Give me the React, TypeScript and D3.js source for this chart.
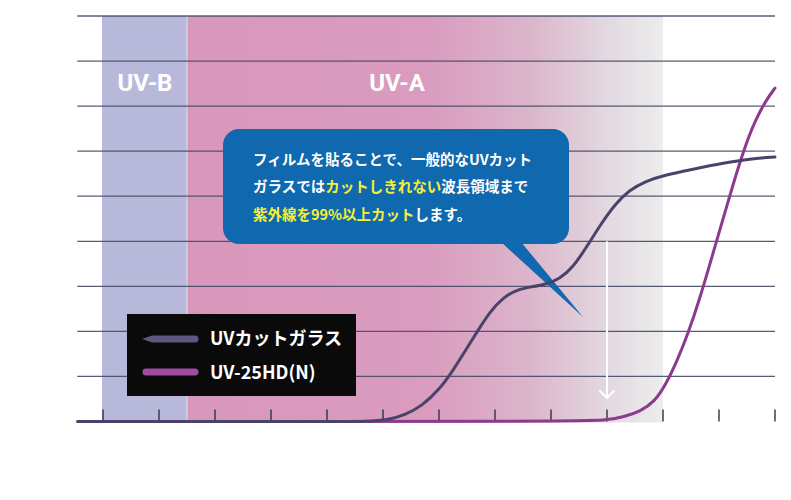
import React from "react";
import * as d3 from "d3";

// ---- data ----
const tickWavelengths = [280, 290, 300, 310, 320, 330, 340, 350, 360, 370, 380, 390, 400];
const gridValues = [10, 20, 30, 40, 50, 60, 70, 80, 90];
const bandUVB = [280, 295];
const bandUVA = [295, 380];
const arrowWavelength = 370;
const arrowRange = [40, 5];

const glassX = [275.5, 326, 331, 334, 337, 340, 342.5, 345, 347, 349, 351.5, 354, 356.5, 359, 361.5, 364, 366.5, 369, 371.5, 374, 377, 380, 385, 391, 395.5, 400];
const glassY = [0, 0, 0.3, 1.5, 3.5, 7.0, 11.3, 16.3, 20.3, 24.2, 27.6, 29.3, 29.9, 30.4, 31.6, 34.3, 39.0, 44.0, 48.3, 51.4, 53.4, 54.6, 55.9, 57.4, 58.3, 58.7];

const filmX = [275.5, 365, 370, 373, 376, 378.5, 380.5, 382.5, 384.5, 386.5, 388.5, 390.5, 392.5, 394.5, 396.5, 398.5, 400];
const filmY = [0, 0, 0.3, 1.0, 2.3, 4.4, 8.2, 13.4, 19.6, 27.0, 35.5, 44.0, 52.6, 60.6, 67.0, 71.5, 74.0];

const seriesNames = ["UVカットガラス", "UV-25HD(N)"];
const bandLabels = ["UV-B", "UV-A"];

const W = 791;
const H = 500;

export default function App() {
  const x = d3.scaleLinear().domain([280, 400]).range([103, 775]);
  const y = d3.scaleLinear().domain([0, 90]).range([421.5, 16]);
  const line = d3
    .line<[number, number]>()
    .x((d) => x(d[0]))
    .y((d) => y(d[1]))
    .curve(d3.curveBasis);
  const glassPts = glassX.map((v, i) => [v, glassY[i]] as [number, number]);
  const filmPts = filmX.map((v, i) => [v, filmY[i]] as [number, number]);

  const gx0 = x(275.4);
  const gx1 = x(400);
  const top = y(90);
  const bottom = y(0) + 1;

  const ax = x(arrowWavelength);
  const ay0 = y(arrowRange[0]);
  const ay1 = y(arrowRange[1]) - 1;

  const cjk = "'Noto Sans CJK JP', 'Noto Sans', sans-serif";
  const yellow = "#f4f03a";

  return (
    <svg
      width={W}
      height={H}
      viewBox={`0 0 ${W} ${H}`}
      style={{ position: "absolute", left: 0, top: 0, display: "block", background: "#fff" }}
    >
      <defs>
        <linearGradient id="uva" x1={x(bandUVA[0])} x2={x(bandUVA[1])} y1="0" y2="0" gradientUnits="userSpaceOnUse">
          <stop offset="0" stopColor="#d898bc" />
          <stop offset="0.5" stopColor="#d99bbe" />
          <stop offset="0.72" stopColor="#dcb5cb" />
          <stop offset="0.88" stopColor="#e2d8e0" />
          <stop offset="1" stopColor="#ededed" />
        </linearGradient>
      </defs>

      {/* bands */}
      <rect x={x(bandUVB[0]) - 1} y={top} width={x(bandUVB[1]) - x(bandUVB[0]) + 1} height={bottom - top} fill="#b8b9da" />
      <rect x={x(bandUVA[0])} y={top} width={x(bandUVA[1]) - x(bandUVA[0])} height={bottom - top} fill="url(#uva)" />
      <line x1={x(bandUVA[0])} x2={x(bandUVA[0])} y1={top} y2={bottom} stroke="#ffffff" strokeOpacity={0.6} strokeWidth={1} />

      {/* grid */}
      {gridValues.map((g) => (
        <line key={g} x1={gx0} x2={gx1} y1={y(g)} y2={y(g)} stroke="#454a66" strokeWidth={1.3} strokeOpacity={0.9} />
      ))}

      {/* ticks */}
      {tickWavelengths.map((t) => (
        <line key={t} x1={x(t)} x2={x(t)} y1={y(0) - 12} y2={y(0)} stroke="#2e3048" strokeWidth={1.4} />
      ))}

      {/* band labels */}
      <text x={(x(bandUVB[0]) + x(bandUVB[1])) / 2} y={91} textAnchor="middle" fill="#fff" fontFamily="Roboto, sans-serif" fontWeight={700} fontSize={24}>
        {bandLabels[0]}
      </text>
      <text x={397} y={91} textAnchor="middle" fill="#fff" fontFamily="Roboto, sans-serif" fontWeight={700} fontSize={24}>
        {bandLabels[1]}
      </text>

      {/* arrow */}
      <line x1={ax} x2={ax} y1={ay0} y2={ay1} stroke="#fff" strokeWidth={2} />
      <polyline points={`${ax - 7.5},${ay1 - 7.5} ${ax},${ay1} ${ax + 7.5},${ay1 - 7.5}`} fill="none" stroke="#fff" strokeWidth={2} />

      {/* callout */}
      <path d="M501,242 L521,242 L583,317 Z" fill="#1068ae" />
      <rect x={223} y={129} width={346} height={115} rx={16} ry={16} fill="#1068ae" />
      <g fontFamily={cjk} fontWeight={700} fontSize={14.5} fill="#fff">
        <text x={253} y={165}>フィルムを貼ることで、一般的なUVカット</text>
        <text x={253} y={192}>
          ガラスでは<tspan fill={yellow}>カットしきれない</tspan>波長領域まで
        </text>
        <text x={253} y={220}>
          <tspan fill={yellow}>紫外線を99%以上カット</tspan>します。
        </text>
      </g>

      {/* curves */}
      <path d={line(filmPts) || ""} fill="none" stroke="#8c3a8e" strokeWidth={3} strokeLinecap="round" />
      <path d={line(glassPts.slice(1)) || ""} fill="none" stroke="#4a4369" strokeWidth={3} strokeLinecap="round" />
      <path d={line(glassPts.slice(0, 2)) || ""} fill="none" stroke="#4a4369" strokeWidth={3} strokeLinecap="round" />

      {/* legend */}
      <rect x={127} y={314} width={229} height={82} fill="#0a0a0a" />
      <path d="M142,339 L152,335.5 L195,335.5 A3.5,3.5 0 0 1 195,342.5 L152,342.5 Z" fill="#5d5782" />
      <line x1={146} x2={195} y1={372} y2={372} stroke="#a24ba2" strokeWidth={7} strokeLinecap="round" />
      <g fontFamily={cjk} fontWeight={700} fontSize={18} fill="#fff">
        <text x={210} y={345}>{seriesNames[0]}</text>
        <text x={210} y={379}>{seriesNames[1]}</text>
      </g>
    </svg>
  );
}
